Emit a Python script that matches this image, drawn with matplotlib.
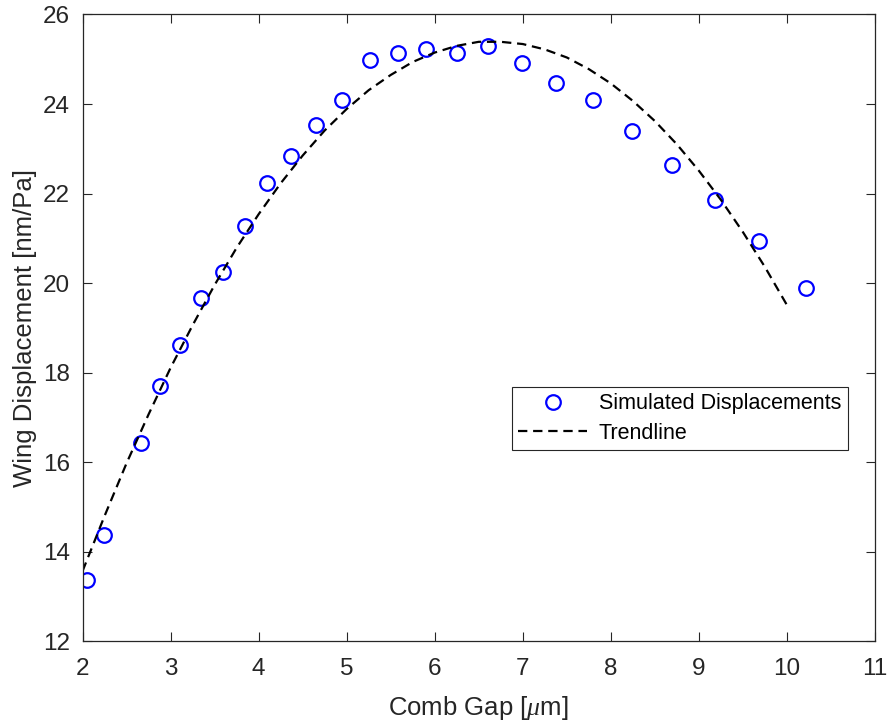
import matplotlib
matplotlib.use("Agg")
import matplotlib.pyplot as plt

# Simulated displacement data
comb_gap = [2.05, 2.24, 2.66, 2.88, 3.11, 3.34, 3.59, 3.84, 4.10, 4.37,
            4.65, 4.95, 5.26, 5.58, 5.90, 6.25, 6.61, 6.99, 7.38, 7.80,
            8.24, 8.69, 9.18, 9.68, 10.22]
displacement = [13.38, 14.38, 16.43, 17.71, 18.62, 19.68, 20.26, 21.27, 22.24, 22.85,
                23.54, 24.10, 24.99, 25.15, 25.24, 25.15, 25.30, 24.92, 24.47, 24.08,
                23.40, 22.64, 21.86, 20.95, 19.89]

# Trendline
trend_x = [2.0, 2.25, 2.5, 2.75, 3.0, 3.25, 3.5, 3.75, 4.0, 4.25, 4.5, 4.75,
           5.0, 5.25, 5.5, 5.75, 6.0, 6.25, 6.5, 6.75, 7.0, 7.25, 7.5, 7.75,
           8.0, 8.25, 8.5, 8.75, 9.0, 9.25, 9.5, 9.75, 10.0]
trend_y = [13.57, 14.80, 15.98, 17.07, 18.11, 19.06, 19.96, 20.79, 21.54, 22.23,
           22.85, 23.41, 23.89, 24.31, 24.65, 24.94, 25.15, 25.30, 25.39, 25.39,
           25.34, 25.22, 25.04, 24.78, 24.46, 24.07, 23.62, 23.10, 22.51, 21.86,
           21.14, 20.36, 19.51]

x_ticks = [2, 3, 4, 5, 6, 7, 8, 9, 10, 11]
y_ticks = [12, 14, 16, 18, 20, 22, 24, 26]

plt.rcParams['font.family'] = ['Liberation Sans', 'DejaVu Sans']
plt.rcParams['mathtext.fontset'] = 'custom'
plt.rcParams['mathtext.it'] = 'Liberation Serif:italic'

fig = plt.figure(figsize=(8.91, 7.21), dpi=100)
ax = fig.add_axes([0.0926, 0.1103, 0.8895, 0.8696])

ax.plot(comb_gap, displacement, linestyle='none', marker='o', markersize=10.5,
        markerfacecolor='none', markeredgecolor='#0000ff', markeredgewidth=1.6,
        label='Simulated Displacements')
ax.plot(trend_x, trend_y, color='black', linewidth=1.6, dashes=(4.2, 2.6),
        label='Trendline')

ax.set_xlim(2, 11)
ax.set_ylim(12, 26)
ax.set_xticks(x_ticks)
ax.set_yticks(y_ticks)

axis_color = '#262626'
for s in ax.spines.values():
    s.set_color(axis_color)
    s.set_linewidth(0.9)
ax.tick_params(direction='in', length=6.5, width=0.8, colors=axis_color,
               labelsize=17.5, top=True, right=True)
ax.tick_params(axis='x', pad=12)
ax.tick_params(axis='y', pad=9)
for lab in ax.get_xticklabels() + ax.get_yticklabels():
    lab.set_color(axis_color)

ax.set_xlabel(r'Comb Gap [$\mathit{\mu}$m]', fontsize=18.5, color=axis_color, labelpad=10)
ax.set_ylabel('Wing Displacement [nm/Pa]', fontsize=18.5, color=axis_color, labelpad=4)

leg = ax.legend(loc='upper right', bbox_to_anchor=(0.9655, 0.4064), fontsize=15.5,
                frameon=True, fancybox=False, shadow=False, framealpha=1,
                handlelength=3.2, handletextpad=0.55, borderpad=0.3,
                labelspacing=0.4, borderaxespad=0)
leg.get_frame().set_edgecolor(axis_color)
leg.get_frame().set_linewidth(0.8)

fig.savefig('out.png', dpi=100)
